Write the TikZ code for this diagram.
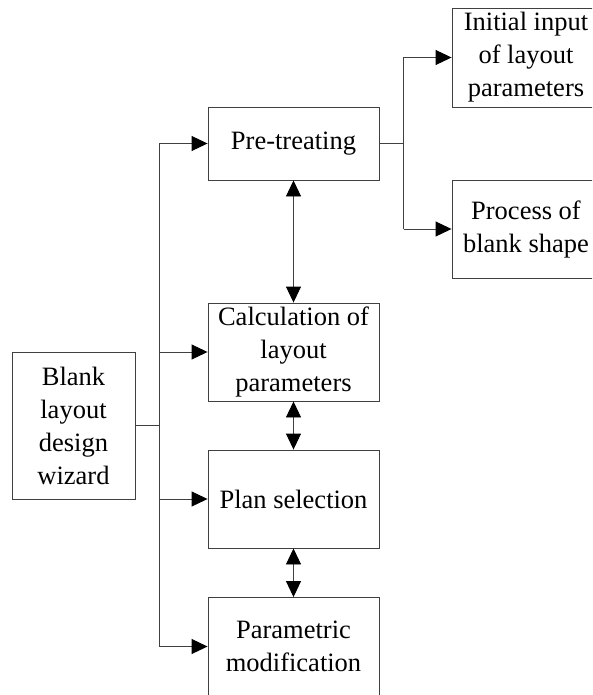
\documentclass[tikz,border=0pt]{standalone}
\usepackage{fontspec}
\setmainfont{Liberation Serif}
\usetikzlibrary{arrows.meta}
\begin{document}
\begin{tikzpicture}[x=1pt,y=-1pt,
  box/.style={draw=black!75, line width=0.9pt, inner sep=0pt, align=center,
    font=\fontsize{26.5}{33}\selectfont},
  wire/.style={draw=black!75, line width=0.9pt},
  arr/.style={wire, -{Triangle[length=16pt,width=15pt,color=black]}},
  darr/.style={wire, {Triangle[length=16pt,width=15pt,color=black]}-{Triangle[length=16pt,width=15pt,color=black]}}]
\useasboundingbox (0,0) rectangle (592,695);
\clip (0,0) rectangle (592,695);
\node[box, minimum width=171pt, minimum height=73pt] (pre) at (293.5,143.5) {Pre-treating};
\node[box, minimum width=171pt, minimum height=98pt] (calc) at (293.5,352) {Calculation of\\layout\\parameters};
\node[box, minimum width=171pt, minimum height=98pt] (plan) at (293.5,499) {Plan selection};
\node[box, minimum width=171pt, minimum height=98pt] (param) at (293.5,646.5) {Parametric\\modification};
\node[box, minimum width=123pt, minimum height=147pt] (blank) at (73.5,425.5) {Blank\\layout\\design\\wizard};
\node[box, minimum width=148pt, minimum height=99pt] (init) at (526,57.5) {Initial input\\of layout\\parameters};
\node[box, minimum width=148pt, minimum height=98pt] (proc) at (526,229) {Process of\\blank shape};
\coordinate (tl) at (159.5,0);
\coordinate (tr) at (403.5,0);
% left trunk
\draw[wire] (blank.east) -- (tl |- blank.east);
\draw[wire] (tl |- pre.west) -- (tl |- param.west);
\draw[arr] (tl |- pre.west) -- (pre.west);
\draw[arr] (tl |- calc.west) -- (calc.west);
\draw[arr] (tl |- plan.west) -- (plan.west);
\draw[arr] (tl |- param.west) -- (param.west);
% right branch
\draw[wire] (pre.east) -- (tr |- pre.east);
\draw[wire] (tr |- init.west) -- (tr |- proc.west);
\draw[arr] (tr |- init.west) -- (init.west);
\draw[arr] (tr |- proc.west) -- (proc.west);
% vertical double arrows
\draw[darr] (pre.south) -- (calc.north);
\draw[darr] (calc.south) -- (plan.north);
\draw[darr] (plan.south) -- (param.north);
\end{tikzpicture}
\end{document}
